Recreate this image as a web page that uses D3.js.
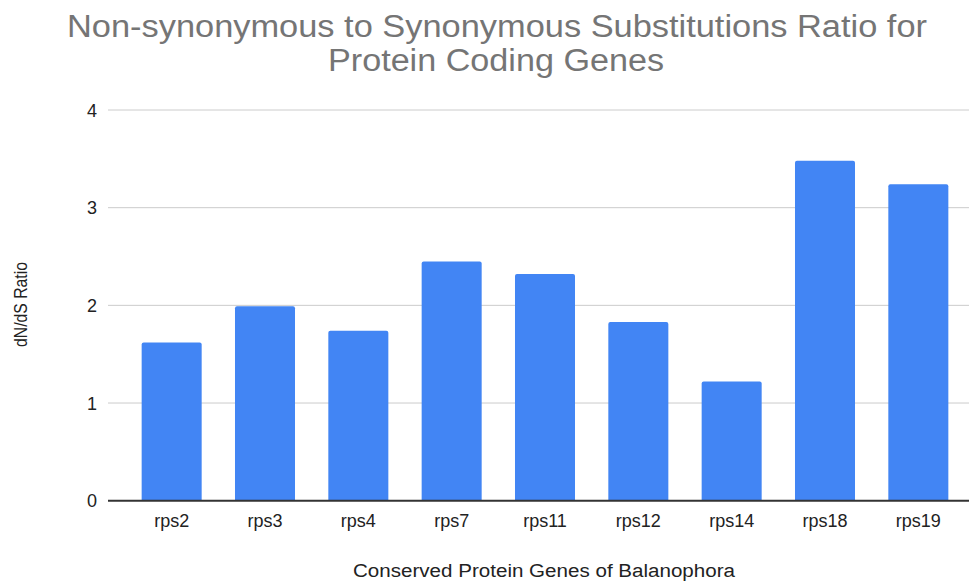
<!DOCTYPE html>
<html><head><meta charset="utf-8">
<script src="https://cdn.jsdelivr.net/npm/d3@7"></script>
<style>body{margin:0;background:#fff}svg{display:block}text{font-family:"Liberation Sans",Arial,sans-serif}</style>
</head><body>
<svg id="c" width="969" height="583"></svg>
<script>
const categories = ["rps2","rps3","rps4","rps7","rps11","rps12","rps14","rps18","rps19"];
const values = [1.62, 1.99, 1.74, 2.45, 2.32, 1.83, 1.22, 3.48, 3.24];
const yTicks = [0,1,2,3,4];
const titleLines = ["Non-synonymous to Synonymous Substitutions Ratio for","Protein Coding Genes"];
const xTitle = "Conserved Protein Genes of Balanophora";
const yTitle = "dN/dS Ratio";

const svg = d3.select("#c");
const x = d3.scaleBand().domain(categories).range([125,965]).paddingInner(0.357).paddingOuter(0.1785);
const y = d3.scaleLinear().domain([0,4]).range([500.7,110]);
const gridX0 = 108, gridX1 = 969;

svg.append("g").selectAll("line").data(yTicks.filter(d=>d>0)).join("line")
  .attr("x1",gridX0).attr("x2",gridX1).attr("y1",d=>y(d)).attr("y2",d=>y(d))
  .attr("stroke","#cccccc").attr("stroke-width",1);

svg.append("g").selectAll("text").data(yTicks).join("text")
  .attr("x",97).attr("y",d=>y(d)+6.5).attr("text-anchor","end")
  .attr("font-size",18).attr("fill","#222").text(d=>d);

svg.append("g").selectAll("path").data(categories).join("path")
  .attr("fill","#4285f4")
  .attr("d",(c,i)=>{
    const x0=x(c), w=x.bandwidth(), y0=y(values[i]), yb=y(0), r=2;
    return `M${x0},${yb}V${y0+r}Q${x0},${y0} ${x0+r},${y0}H${x0+w-r}Q${x0+w},${y0} ${x0+w},${y0+r}V${yb}Z`;
  });

svg.append("line").attr("x1",gridX0).attr("x2",gridX1).attr("y1",y(0)).attr("y2",y(0))
  .attr("stroke","#333").attr("stroke-width",2);

svg.append("g").selectAll("text").data(categories).join("text")
  .attr("x",c=>x(c)+x.bandwidth()/2).attr("y",527).attr("text-anchor","middle")
  .attr("font-size",18).attr("fill","#222").text(c=>c);

const tl = [860, 336];
svg.append("g").selectAll("text").data(titleLines).join("text")
  .attr("x",(d,i)=>i===0?67:328).attr("y",(d,i)=>37+i*34)
  .attr("font-size",31).attr("fill","#757575")
  .attr("textLength",(d,i)=>tl[i]).attr("lengthAdjust","spacingAndGlyphs").text(d=>d);

svg.append("text").attr("x",353).attr("y",577)
  .attr("font-size",18).attr("fill","#222")
  .attr("textLength",382).attr("lengthAdjust","spacingAndGlyphs").text(xTitle);

svg.append("text").attr("transform","translate(27,347) rotate(-90)")
  .attr("font-size",18.5).attr("fill","#222")
  .attr("textLength",85).attr("lengthAdjust","spacingAndGlyphs").text(yTitle);
</script>
</body></html>
